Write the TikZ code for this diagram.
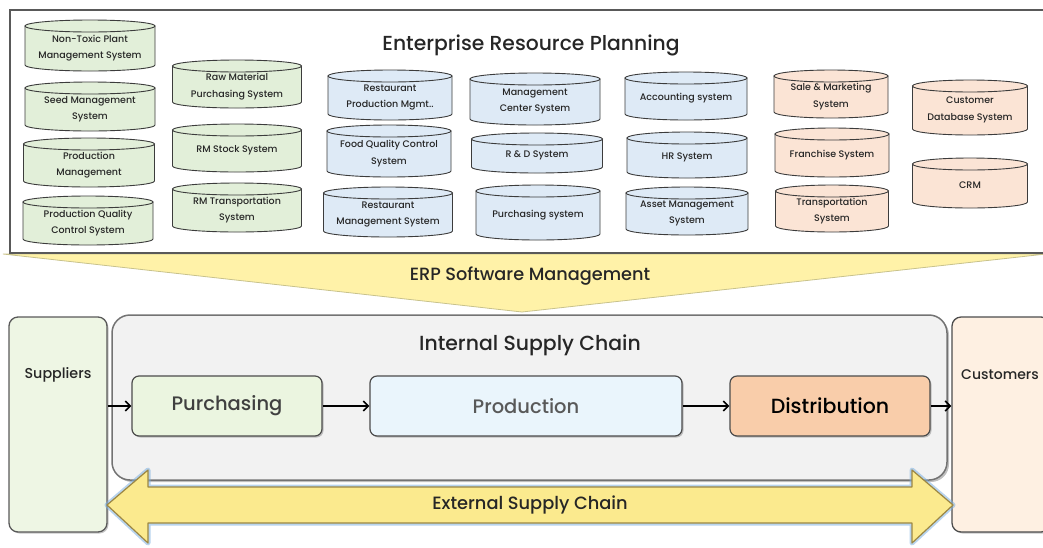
\documentclass[tikz,border=0pt]{standalone}
\usepackage{fontspec}
\setmainfont{Poppins}[UprightFont={* Medium}]
\usepackage{tikz}
\usetikzlibrary{positioning,shadows,arrows.meta}

\definecolor{cylgreen}{HTML}{E2EFD9}
\definecolor{cylblue}{HTML}{DEEAF6}
\definecolor{cylorange}{HTML}{FBE4D5}
\definecolor{dbline}{HTML}{3C3C3C}
\definecolor{textdark}{HTML}{262626}
\definecolor{funnelyellow}{HTML}{FFF2A8}
\definecolor{funnelline}{HTML}{C8C28C}
\definecolor{arrowyellow}{HTML}{FBEA8E}
\definecolor{arrowgold}{HTML}{9C8744}
\definecolor{glowblue}{HTML}{7DB0E0}
\definecolor{supfill}{HTML}{EEF6E4}
\definecolor{custfill}{HTML}{FEF0E2}
\definecolor{iscfill}{HTML}{F2F2F2}
\definecolor{purfill}{HTML}{EBF5E0}
\definecolor{profill}{HTML}{EAF5FC}
\definecolor{disfill}{HTML}{F9CDAA}

\tikzset{
  dbbody/.style={draw=dbline, line width=0.9pt},
  dbtext/.style={font=\fontsize{9.5}{16.5}\selectfont, align=center, text=textdark, inner sep=0pt},
  sidebox/.style={draw=#1, line width=1.3pt, rounded corners=9pt, minimum width=98pt, minimum height=215pt,
    drop shadow={shadow xshift=1.5pt, shadow yshift=-1.5pt, opacity=.45}},
  procbox/.style={draw=#1, line width=1.2pt, rounded corners=7pt, minimum height=60pt,
    font=\fontsize{19.5}{21}\selectfont, drop shadow={shadow xshift=1.5pt, shadow yshift=-1.5pt, opacity=.45}},
  flow/.style={-{Straight Barb[length=5pt, width=10pt]}, line width=1.6pt},
}

% one database cylinder: name, centre x, top y, width, height, fill, text
\newcommand{\erpdb}[7]{%
  \pgfmathsetmacro{\dbleft}{#2-#4/2}%
  \pgfmathsetmacro{\dbright}{#2+#4/2}%
  \pgfmathsetmacro{\dbtop}{#3+6}%
  \pgfmathsetmacro{\dbbot}{#3+#5-6}%
  \pgfmathsetmacro{\dbmid}{#3+#5/2+2.5}%
  \filldraw[dbbody, fill=#6] (\dbleft,\dbtop) -- (\dbleft,\dbbot)
    arc[start angle=180, end angle=0, x radius=#4/2, y radius=6] -- (\dbright,\dbtop) -- cycle;
  \filldraw[dbbody, fill=#6] (#2,\dbtop) ellipse[x radius=#4/2, y radius=6];
  \node[dbtext] (#1) at (#2,\dbmid) {#7};
}

\begin{document}
\begin{tikzpicture}[x=1pt, y=-1pt]
  \useasboundingbox (0,0) rectangle (1043,547);

  % software funnel and erp frame
  \filldraw[fill=funnelyellow, draw=funnelline, line width=0.8pt] (3,254) -- (1046,254) -- (522,312) -- cycle;
  \node[font=\fontsize{17.7}{19}\selectfont, text=textdark] (erpsw) at (530,276) {ERP Software Management};
  \filldraw[fill=white, draw=dbline!85, line width=1.2pt] (10,10) rectangle (1050,253);
  \node[font=\fontsize{20.3}{22}\selectfont, text=textdark] (erp) at (531,45) {Enterprise Resource Planning};

  % green systems
  \erpdb{ntp}{90}{20}{130}{51}{cylgreen}{Non-Toxic Plant\\Management System}
  \erpdb{seed}{90}{82}{130}{49}{cylgreen}{Seed Management\\System}
  \erpdb{prodm}{89}{138}{131}{49}{cylgreen}{Production\\Management}
  \erpdb{pqc}{88}{196}{130}{49}{cylgreen}{Production Quality\\Control System}
  \erpdb{rmp}{237}{60}{129}{48}{cylgreen}{Raw Material\\Purchasing System}
  \erpdb{rms}{237}{124}{129}{48}{cylgreen}{RM Stock System}
  \erpdb{rmt}{237}{183}{129}{49}{cylgreen}{RM Transportation\\System}

  % blue systems
  \erpdb{rpm}{390}{70}{124}{50}{cylblue}{Restaurant\\Production Mgmt..}
  \erpdb{fqc}{389}{125}{124}{52}{cylblue}{Food Quality Control\\System}
  \erpdb{rsm}{388}{187}{129}{50}{cylblue}{Restaurant\\Management System}
  \erpdb{mcs}{535}{73}{130}{52}{cylblue}{Management\\Center System}
  \erpdb{rnd}{537}{133}{131}{40}{cylblue}{R \& D System}
  \erpdb{pus}{538}{185}{124}{55}{cylblue}{Purchasing system}
  \erpdb{acc}{686}{72}{122}{48}{cylblue}{Accounting system}
  \erpdb{hrs}{687}{132}{120}{46}{cylblue}{HR System}
  \erpdb{ams}{687}{187}{122}{48}{cylblue}{Asset Management\\System}

  % orange systems
  \erpdb{sms}{831}{70}{114}{48}{cylorange}{Sale \& Marketing\\System}
  \erpdb{frs}{832}{128}{114}{49}{cylorange}{Franchise System}
  \erpdb{trs}{832}{185}{113}{47}{cylorange}{Transportation\\System}
  \erpdb{cdb}{970}{80}{115}{55}{cylorange}{Customer\\Database System}
  \erpdb{crm}{970}{158}{115}{50}{cylorange}{CRM}

  % supply chain
  \node[draw=black!55, fill=iscfill, line width=1.5pt, rounded corners=18pt, minimum width=835pt, minimum height=165pt,
    drop shadow={shadow xshift=2pt, shadow yshift=-2pt, opacity=.5}] (isc) at (529.5,397.5) {};
  \node[font=\fontsize{20.4}{22}\selectfont, text=textdark] (isclabel) at (530,345) {Internal Supply Chain};

  \node[sidebox=black!65, fill=supfill] (sup) at (58,424.5) {};
  \node[font=\fontsize{14.3}{16}\selectfont, text=textdark] (suplabel) at (58,375) {Suppliers};
  \node[sidebox=black!70, fill=custfill] (cust) at (1001,424.5) {};
  \node[font=\fontsize{14}{16}\selectfont, text=textdark] (custlabel) at (1000,375) {Customers};

  \node[procbox=black!70, fill=purfill, minimum width=190pt, text=black!75] (pur) at (227,406) {Purchasing};
  \node[procbox=black!70, fill=profill, minimum width=312pt, text=black!65] (pro) at (526,406) {Production};
  \node[procbox=black!70, fill=disfill, minimum width=200pt, text=black, font=\fontsize{20.5}{22}\selectfont] (dis) at (830,406) {Distribution};

  \draw[flow] (pur.west -| sup.east) -- (pur.west);
  \draw[flow] (pur) -- (pro);
  \draw[flow] (pro) -- (dis);
  \draw[flow] (dis.east) -- (dis.east -| cust.west);

  % external double arrow
  \draw[glowblue, line width=5pt, opacity=.55, line join=round]
    (107,505) -- (148,470) -- (148,487) -- (912,487) -- (912,470) -- (953,505)
    -- (912,543) -- (912,523) -- (148,523) -- (148,543) -- cycle;
  \filldraw[fill=arrowyellow, draw=arrowgold, line width=1.2pt, line join=round]
    (107,505) -- (148,470) -- (148,487) -- (912,487) -- (912,470) -- (953,505)
    -- (912,543) -- (912,523) -- (148,523) -- (148,543) -- cycle;
  \node[font=\fontsize{17.8}{19}\selectfont, text=textdark] (ext) at (530,505) {External Supply Chain};
\end{tikzpicture}
\end{document}
